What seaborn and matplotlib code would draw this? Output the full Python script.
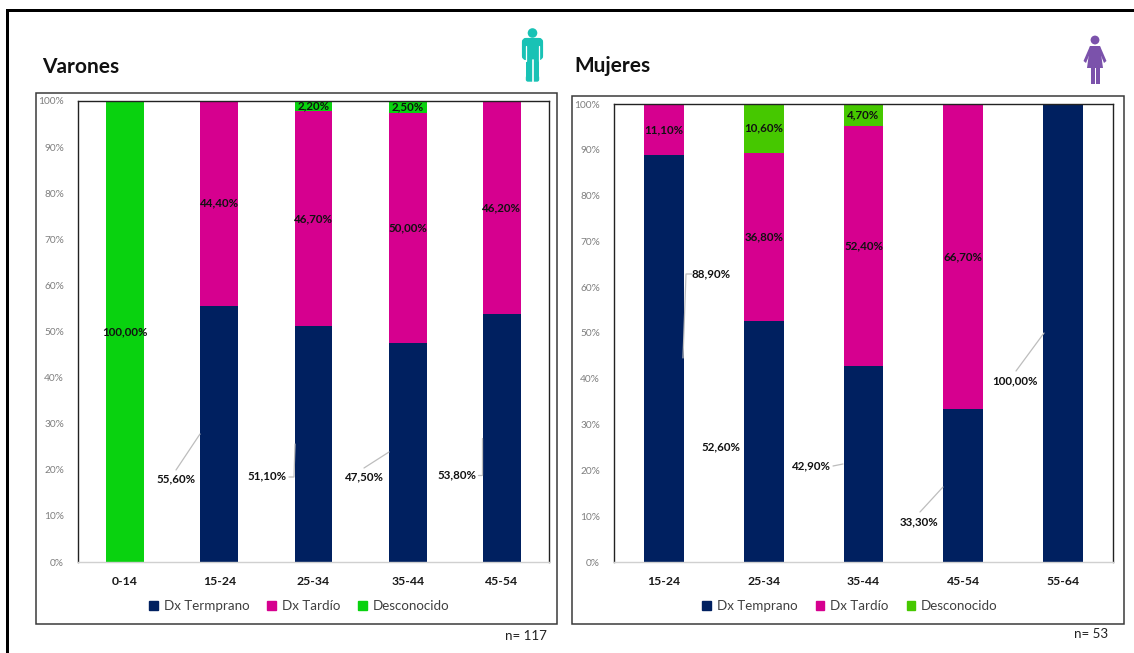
import matplotlib
matplotlib.use("Agg")
import matplotlib.pyplot as plt
from matplotlib.patches import Rectangle, Circle, Polygon, FancyBboxPatch, Patch
import seaborn as sns

sns.set_theme(style="white")
plt.rcParams["font.family"] = ["Lato", "DejaVu Sans"]

W, H = 1134, 653

# Diagnosis timing by age group, in percent
ages_m = ["0-14", "15-24", "25-34", "35-44", "45-54"]
early_m = [0, 55.6, 51.1, 47.5, 53.8]
late_m = [0, 44.4, 46.7, 50.0, 46.2]
unknown_m = [100.0, 0, 2.2, 2.5, 0]

ages_f = ["15-24", "25-34", "35-44", "45-54", "55-64"]
early_f = [88.9, 52.6, 42.9, 33.3, 100.0]
late_f = [11.1, 36.8, 52.4, 66.7, 0]
unknown_f = [0, 10.6, 4.7, 0, 0]

legend_m = ["Dx Termprano", "Dx Tardío", "Desconocido"]
legend_f = ["Dx Temprano", "Dx Tardío", "Desconocido"]

NAVY = "#002060"
MAGENTA = "#D6008F"
GREEN_M = "#09D20F"
GREEN_F = "#46C800"
DARK = "#222222"


def pct(v):
    return f"{v:.2f}".replace(".", ",") + "%"


def px_axes(fig, x0, x1, y0, y1):
    """Axes placed by pixel box, measured from the top-left corner."""
    return fig.add_axes([x0 / W, 1 - y1 / H, (x1 - x0) / W, (y1 - y0) / H], zorder=2)


def stacked(ax, ages, early, late, unknown, green):
    """Three stacked seaborn bar layers; late and unknown are labelled in place."""
    bottom_late = list(early)
    bottom_unknown = [a + b for a, b in zip(early, late)]
    style = dict(width=0.4, saturation=1, linewidth=0, ax=ax)
    sns.barplot(x=ages, y=early, color=NAVY, **style)
    sns.barplot(x=ages, y=late, bottom=bottom_late, color=MAGENTA, **style)
    sns.barplot(x=ages, y=unknown, bottom=bottom_unknown, color=green, **style)
    for cont, vals in zip(ax.containers[1:], (late, unknown)):
        ax.bar_label(cont, labels=[pct(v) if v > 0 else "" for v in vals],
                     label_type="center", fontsize=8.3, fontweight="bold", color="#111111")
    ax.set_xlim(-0.5, 4.5)
    ax.set_ylim(0, 100)
    ax.set_yticks(range(0, 101, 10))
    ax.set_yticklabels([f"{t}%" for t in range(0, 101, 10)], fontsize=7.3, color="#7f7f7f")
    ax.tick_params(axis="y", length=0, pad=10)
    ax.tick_params(axis="x", length=0, pad=10)
    for lab in ax.get_xticklabels():
        lab.set_fontsize(8.8)
        lab.set_fontweight("bold")
        lab.set_color("#1a1a1a")
    for side in ("top", "left", "right"):
        ax.spines[side].set_color(DARK)
        ax.spines[side].set_linewidth(1.0)
    ax.spines["bottom"].set_color("#d0d0d0")
    ax.spines["bottom"].set_linewidth(1.0)
    ax.grid(False)


def callout(ax, text, value_xy, line=None):
    """Outside label with an optional thin leader line."""
    ax.text(*value_xy, text, ha="center", va="center", fontsize=8.3,
            fontweight="bold", color="#111111")
    if line:
        xs, ys = zip(*line)
        ax.plot(xs, ys, color="#bdbdbd", lw=0.9, solid_capstyle="round", zorder=4)


fig = plt.figure(figsize=(W / 100, H / 100), dpi=100, facecolor="white")

# Page layer in pixel units: frame, panel boxes, headings and pictograms
page = fig.add_axes([0, 0, 1, 1], zorder=3)
page.set_xlim(0, W)
page.set_ylim(H, 0)
page.axis("off")
page.patch.set_visible(False)

page.add_patch(Rectangle((6, 9), 3, H - 9, color="black", lw=0))
page.add_patch(Rectangle((6, 9), W - 6, 3, color="black", lw=0))
page.add_patch(Rectangle((36, 93), 521, 531, fc="none", ec="#3a3a3a", lw=1.1))
page.add_patch(Rectangle((572, 96), 552, 528, fc="none", ec="#3a3a3a", lw=1.1))

page.text(42, 67, "Varones", fontsize=15, fontweight="bold", color="#111111", va="center")
page.text(574, 66, "Mujeres", fontsize=15, fontweight="bold", color="#111111", va="center")
page.text(547, 635.5, "n= 117", fontsize=9.6, color="#222222", ha="right", va="center")
page.text(1108, 634.5, "n= 53", fontsize=9.6, color="#222222", ha="right", va="center")

# Male pictogram
TEAL = "#19C2B5"
page.add_patch(Circle((532.5, 33), 4.8, color=TEAL, lw=0))
page.add_patch(FancyBboxPatch((524, 40), 17, 18, boxstyle="round,pad=0,rounding_size=2",
                              fc=TEAL, ec=TEAL, lw=3))
page.add_patch(Rectangle((526, 50), 13, 29, color=TEAL, lw=0))
page.add_patch(FancyBboxPatch((526.5, 76), 12, 5, boxstyle="round,pad=0,rounding_size=1.5",
                              fc=TEAL, ec=TEAL, lw=1))
page.plot([532.5, 532.5], [60, 83], color="white", lw=1.2)
page.plot([526, 526], [46, 61], color="white", lw=0.9)
page.plot([539, 539], [46, 61], color="white", lw=0.9)

# Female pictogram
PURPLE = "#7B52AB"
page.add_patch(Circle((1095, 40), 4.4, color=PURPLE, lw=0))
page.add_patch(Polygon([(1090, 46), (1100, 46), (1103, 68), (1087, 68)], color=PURPLE, lw=0))
page.add_patch(Polygon([(1090, 46), (1093, 46), (1086, 63), (1083.5, 61)], color=PURPLE, lw=0))
page.add_patch(Polygon([(1100, 46), (1097, 46), (1104, 63), (1106.5, 61)], color=PURPLE, lw=0))
page.add_patch(Rectangle((1090.5, 67), 4, 17, color=PURPLE, lw=0))
page.add_patch(Rectangle((1095.5, 67), 4, 17, color=PURPLE, lw=0))

# Left panel
ax_m = px_axes(fig, 78, 549, 101, 562)
stacked(ax_m, ages_m, early_m, late_m, unknown_m, GREEN_M)

# Right panel
ax_f = px_axes(fig, 614, 1113, 104, 562)
stacked(ax_f, ages_f, early_f, late_f, unknown_f, GREEN_F)

# Outside labels for the early-diagnosis segments, placed in page pixels
callout(page, pct(early_m[1]), (176, 479), line=[(176, 470), (200, 434)])
callout(page, pct(early_m[2]), (267, 476), line=[(289, 477), (294, 477), (295, 444)])
callout(page, pct(early_m[3]), (364, 477), line=[(364, 468), (389, 452)])
callout(page, pct(early_m[4]), (457, 475), line=[(478, 475), (482, 475), (482, 438)])

callout(page, pct(early_f[0]), (711, 274), line=[(692, 274), (686, 274), (683, 358)])
callout(page, pct(early_f[1]), (721, 447))
callout(page, pct(early_f[2]), (811, 466), line=[(833, 466), (843, 464)])
callout(page, pct(early_f[3]), (919, 522), line=[(920, 512), (943, 487)])
callout(page, pct(early_f[4]), (1015, 381), line=[(1016, 371), (1044, 333)])

for ax, names, green, anchor in (
    (ax_m, legend_m, GREEN_M, (0.470, -0.0965)),
    (ax_f, legend_f, GREEN_F, (0.473, -0.0965)),
):
    handles = [Patch(color=c, label=n) for c, n in zip((NAVY, MAGENTA, green), names)]
    ax.legend(handles=handles, ncols=3, loc="center", bbox_to_anchor=anchor,
              frameon=False, fontsize=9.6, labelcolor="#404040",
              handlelength=0.65, handleheight=0.65, handletextpad=0.45, columnspacing=1.35)

fig.savefig("out.png", dpi=100)
